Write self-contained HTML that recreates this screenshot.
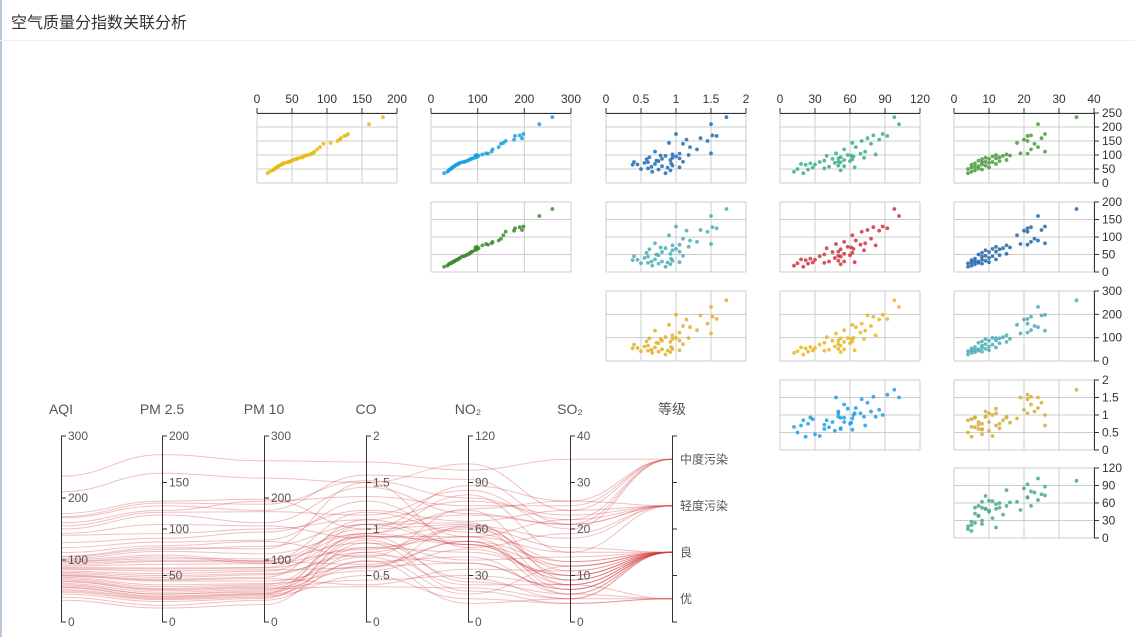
<!DOCTYPE html>
<html><head><meta charset="utf-8">
<style>
html,body{margin:0;padding:0;background:#fff;}
body{width:1135px;height:637px;overflow:hidden;position:relative;font-family:"Liberation Sans","Noto Sans CJK SC",sans-serif;}
#hdr{position:absolute;left:0;top:0;width:1135px;height:41px;border-bottom:1px solid #eee;box-sizing:border-box;}
#hdr span{position:absolute;left:11px;top:9px;font-size:16px;color:#333;}
#lb{position:absolute;left:0;top:0;width:2px;height:637px;background:#b8c8d8;}
svg{position:absolute;left:0;top:0;}
</style></head><body>
<div id="lb"></div>
<div id="hdr"><span>空气质量分指数关联分析</span></div>
<svg id="c" width="1135" height="637"></svg>
<script>
const dimNames=["AQI","PM 2.5","PM 10","CO","NO₂","SO₂","等级"];
const dimMax=[300,200,300,2,120,40];
const gradeCats=["优","良","轻度污染","中度污染"];
const aqi=[235,210,175,170,168,160,155,150,143,140,128,120,112,106,105,102,100,98,97,95,92,90,88,86,85,82,80,78,76,75,74,72,70,68,66,65,62,60,58,56,55,52,50,48,45,40,35];
const pm25=[180,160,130,128,125,120,118,115,105,95,90,86,82,80,78,76,72,70,68,66,65,62,58,57,55,52,50,48,46,45,44,40,38,36,35,34,32,30,30,28,27,26,25,24,22,18,15];
const pm10=[260,232,198,190,180,195,178,160,155,150,145,132,130,118,122,110,98,95,102,99,97,94,88,87,84,82,78,76,72,70,66,62,60,58,56,54,52,50,48,46,45,44,42,40,38,35,28];
const co=[1.72,1.5,1.0,1.52,1.58,1.35,1.15,1.45,0.9,1.1,1.2,1.3,0.7,1.5,1.05,0.95,1.18,0.78,0.85,1.0,0.62,0.95,1.05,0.8,0.58,0.92,0.72,0.75,1.1,0.4,0.6,0.55,0.93,0.7,0.45,0.38,0.95,0.8,0.65,1.05,0.88,0.6,0.5,0.75,0.92,0.66,0.85];
const no2=[98,102,88,80,92,75,85,70,62,78,65,55,73,48,69,82,58,61,40,63,52,72,50,45,62,55,38,60,50,34,52,47,26,18,30,22,50,55,42,64,28,38,15,24,52,12,20];
const so2=[35,24,26,22,21,25,20,21,18,23,24,22,26,19,21,15,12,16,14,11,13,9,12,10,8,15,7,13,9,11,8,10,6,12,8,5,9,7,6,10,5,7,4,8,6,5,4];
const grade=["中度污染","中度污染","中度污染","中度污染","中度污染","中度污染","中度污染","轻度污染","轻度污染","轻度污染","轻度污染","轻度污染","轻度污染","轻度污染","轻度污染","轻度污染","良","良","良","良","良","良","良","良","良","良","良","良","良","良","良","良","良","良","良","良","良","良","良","良","良","良","优","优","优","优","优"];
const smX=[[0,50,100,150,200],[0,100,200,300],[0,0.5,1,1.5,2],[0,30,60,90,120],[0,10,20,30,40]];
const smXLab=[["0","50","100","150","200"],["0","100","200","300"],["0","0.5","1","1.5","2"],["0","30","60","90","120"],["0","10","20","30","40"]];
const smY=[[0,50,100,150,200,250],[0,50,100,150,200],[0,100,200,300],[0,0.5,1,1.5,2],[0,30,60,90,120]];
const smYLab=[["0","50","100","150","200","250"],["0","50","100","150","200"],["0","100","200","300"],["0","0.5","1","1.5","2"],["0","30","60","90","120"]];

const NS="http://www.w3.org/2000/svg";
const svg=document.getElementById('c');
function mk(t,a,p){const e=document.createElementNS(NS,t);for(const k in a)e.setAttribute(k,a[k]);(p||svg).appendChild(e);return e;}
const cols=[pm25,pm10,co,no2,so2];
const rows=[aqi,pm25,pm10,co,no2];
const colors=[["#e8b90f","#1a9fdf","#1e6db5","#3aae8e","#4a9a3c"],[null,"#3b8c2e","#4aaeb7","#d0343f","#2266ac"],[null,null,"#e0b02c","#e8b920","#4aaeb7"],[null,null,null,"#1ba1e2","#d4ae38"],[null,null,null,null,"#4aaa88"]];
const cx0=[257,431,606,780,954], cw=140, ry0=[113,202,291,380,468], rh=70;
const g1=mk('g',{});


for(let r=0;r<5;r++){for(let c=r;c<5;c++){
  const xs=smX[c], ys=smY[r], xmax=xs[xs.length-1], ymax=ys[ys.length-1];
  const X=v=>cx0[c]+v/xmax*cw, Y=v=>ry0[r]+rh-v/ymax*rh;
  const cell=mk('g',{},g1);
  
  
  xs.forEach(v=>mk('line',{x1:X(v),x2:X(v),y1:ry0[r],y2:ry0[r]+rh,stroke:'#ccc','stroke-width':1},cell));
  ys.forEach(v=>mk('line',{x1:cx0[c],x2:cx0[c]+cw,y1:Y(v),y2:Y(v),stroke:'#ccc','stroke-width':1},cell));
  for(let i=0;i<aqi.length;i++){
    const d=mk('circle',{cx:X(cols[c][i]),cy:Y(rows[r][i]),r:1.9,fill:colors[r][c],'fill-opacity':0.85},cell);
    
    
  }
  if(r===0){
    mk('line',{x1:cx0[c],x2:cx0[c]+cw,y1:ry0[0]+0.5,y2:ry0[0]+0.5,stroke:'#333','stroke-width':1},cell);
    xs.forEach((v,i)=>{mk('line',{x1:X(v),x2:X(v),y1:ry0[0],y2:ry0[0]-5,stroke:'#333'},cell);
      const t=mk('text',{x:X(v),y:103,'text-anchor':'middle','font-size':12,fill:'#333'},cell);t.textContent=smXLab[c][i];
      });
  }
  if(c===4){
    mk('line',{x1:cx0[4]+cw+0.5,x2:cx0[4]+cw+0.5,y1:ry0[r],y2:ry0[r]+rh,stroke:'#333'},cell);
    ys.forEach((v,i)=>{mk('line',{x1:cx0[4]+cw,x2:cx0[4]+cw+5,y1:Y(v),y2:Y(v),stroke:'#333'},cell);
      const t=mk('text',{x:cx0[4]+cw+8,y:Y(v)+4,'font-size':12,fill:'#333'},cell);t.textContent=smYLab[r][i];
      });
  }
}}
// parallel
const ax=[61,162,264,366,468,570,672], pTop=436, pBot=622;
const pTicks=[[0,100,200,300],[0,50,100,150,200],[0,100,200,300],[0,0.5,1,1.5,2],[0,30,60,90,120],[0,10,20,30,40]];
const pTickLab=[["0","100","200","300"],["0","50","100","150","200"],["0","100","200","300"],["0","0.5","1","1.5","2"],["0","30","60","90","120"],["0","10","20","30","40"]];
const g2=mk('g',{});


const PY=(d,v)=>{if(d===6){const k=gradeCats.indexOf(v);const bh=(pBot-pTop)/4;return pBot-bh*(k+0.5);}return pBot-v/dimMax[d]*(pBot-pTop);};
const series=[aqi,pm25,pm10,co,no2,so2,grade];
const lg=mk('g',{},g2);
for(let i=0;i<aqi.length;i++){
  const pts=series.map((s,d)=>[ax[d],PY(d,s[i])]);
  let dstr='M'+pts[0][0]+','+pts[0][1];
  for(let k=1;k<pts.length;k++){const dx=(pts[k][0]-pts[k-1][0])*0.45;
    dstr+=' C'+(pts[k-1][0]+dx)+','+pts[k-1][1]+' '+(pts[k][0]-dx)+','+pts[k][1]+' '+pts[k][0]+','+pts[k][1];}
  const p=mk('path',{d:dstr,fill:'none',stroke:'#d03a3f','stroke-opacity':0.32,'stroke-width':1},lg);
  
  
}
for(let d=0;d<7;d++){
  const ag=mk('g',{},g2);
  
  
  mk('line',{x1:ax[d]+0.5,x2:ax[d]+0.5,y1:pTop,y2:pBot,stroke:'#333'},ag);
  const n=mk('text',{x:ax[d],y:414,'text-anchor':'middle','font-size':14,fill:'#555'},ag);n.textContent=dimNames[d];
  
  if(d<6){pTicks[d].forEach((v,i)=>{const y=PY(d,v);mk('line',{x1:ax[d],x2:ax[d]+5,y1:y,y2:y,stroke:'#333'},ag);
    const t=mk('text',{x:ax[d]+7,y:y+4,'font-size':12,fill:'#555'},ag);t.textContent=pTickLab[d][i];
    });}
  else{for(let k=0;k<=4;k++){const y=pBot-k*(pBot-pTop)/4;mk('line',{x1:ax[d],x2:ax[d]+5,y1:y,y2:y,stroke:'#333'},ag);}
    gradeCats.forEach(c=>{const t=mk('text',{x:ax[d]+8,y:PY(6,c)+4,'font-size':12,fill:'#555'},ag);t.textContent=c;
      });}
}
</script>
</body></html>
